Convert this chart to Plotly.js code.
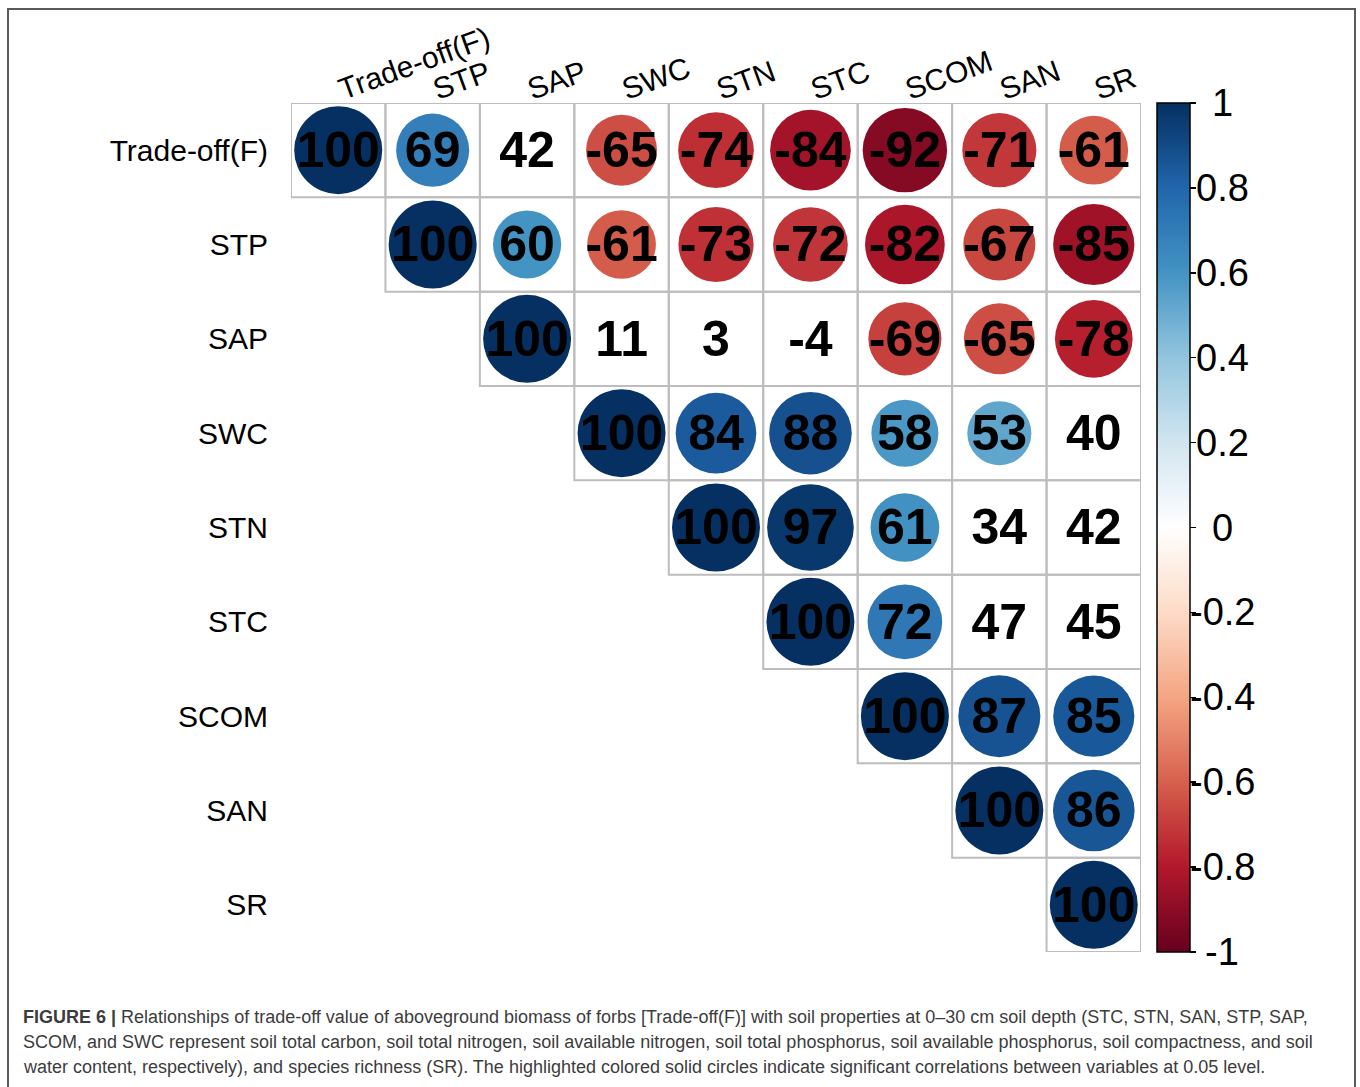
<!DOCTYPE html>
<html>
<head>
<meta charset="utf-8">
<script src="https://cdn.plot.ly/plotly-3.0.1.min.js"></script>
<style>
  html, body { margin: 0; padding: 0; background: #ffffff; }
  #chart { width: 1360px; height: 1087px; }
</style>
</head>
<body>
<div id="chart"></div>
<script>
// ---------------- DATA ----------------
const variables = ['Trade-off(F)', 'STP', 'SAP', 'SWC', 'STN', 'STC', 'SCOM', 'SAN', 'SR'];

// Upper-triangle correlation values (x100), each row starts at the diagonal
const rowTradeoff = [100, 69, 42, -65, -74, -84, -92, -71, -61];
const rowSTP      = [100, 60, -61, -73, -72, -82, -67, -85];
const rowSAP      = [100, 11, 3, -4, -69, -65, -78];
const rowSWC      = [100, 84, 88, 58, 53, 40];
const rowSTN      = [100, 97, 61, 34, 42];
const rowSTC      = [100, 72, 47, 45];
const rowSCOM     = [100, 87, 85];
const rowSAN      = [100, 86];
const rowSR       = [100];

// Significance flags (1 = significant at 0.05, drawn as a circle)
const sigTradeoff = [1, 1, 0, 1, 1, 1, 1, 1, 1];
const sigSTP      = [1, 1, 1, 1, 1, 1, 1, 1];
const sigSAP      = [1, 0, 0, 0, 1, 1, 1];
const sigSWC      = [1, 1, 1, 1, 1, 0];
const sigSTN      = [1, 1, 1, 0, 0];
const sigSTC      = [1, 1, 0, 0];
const sigSCOM     = [1, 1, 1];
const sigSAN      = [1, 1];
const sigSR       = [1];

const colorbarTicks = [1, 0.8, 0.6, 0.4, 0.2, 0, -0.2, -0.4, -0.6, -0.8, -1];

const captionLines = [
  '<b>FIGURE 6 |</b> Relationships of trade-off value of aboveground biomass of forbs [Trade-off(F)] with soil properties at 0–30 cm soil depth (STC, STN, SAN, STP, SAP,',
  'SCOM, and SWC represent soil total carbon, soil total nitrogen, soil available nitrogen, soil total phosphorus, soil available phosphorus, soil compactness, and soil',
  'water content, respectively), and species richness (SR). The highlighted colored solid circles indicate significant correlations between variables at 0.05 level.'
];

// ---------------- BUILD ----------------
const rows = [rowTradeoff, rowSTP, rowSAP, rowSWC, rowSTN, rowSTC, rowSCOM, rowSAN, rowSR];
const sigs = [sigTradeoff, sigSTP, sigSAP, sigSWC, sigSTN, sigSTC, sigSCOM, sigSAN, sigSR];

const W = 1360, H = 1087;
const M = {l: 291, r: W - 1141, t: 103, b: H - 952};
const plotW = W - M.l - M.r, plotH = H - M.t - M.b;
const px = v => (v - M.l) / plotW;
const py = v => (H - M.b - v) / plotH;

const circX = [], circY = [], circC = [], circS = [];
const txtX = [], txtY = [], txtT = [];
const shapes = [];
const FULL = 88; // diameter for |r| = 1

rows.forEach((row, i) => {
  row.forEach((v, k) => {
    const j = i + k;
    const xv = variables[j], yv = variables[i];
    txtX.push(xv); txtY.push(yv); txtT.push(String(v));
    if (sigs[i][k]) {
      circX.push(xv); circY.push(yv);
      circC.push(v / 100);
      circS.push(FULL * Math.sqrt(Math.abs(v) / 100));
    }
    shapes.push({
      type: 'rect', xref: 'x', yref: 'y', layer: 'below',
      x0: j - 0.5, x1: j + 0.5, y0: i - 0.5, y1: i + 0.5,
      line: {color: '#bdbdbd', width: 2}, fillcolor: 'rgba(0,0,0,0)'
    });
  });
});

// outer frame
shapes.push({
  type: 'rect', xref: 'paper', yref: 'paper',
  x0: px(8), x1: px(1355), y0: py(1100), y1: py(9),
  line: {color: '#5a5a5a', width: 2}, fillcolor: 'rgba(0,0,0,0)'
});

const rdbu = [
  [0.0, '#67001F'], [0.1, '#B2182B'], [0.2, '#D6604D'], [0.3, '#F4A582'],
  [0.4, '#FDDBC7'], [0.5, '#FFFFFF'], [0.6, '#D1E5F0'], [0.7, '#92C5DE'],
  [0.8, '#4393C3'], [0.9, '#2166AC'], [1.0, '#053061']
];

const circles = {
  type: 'scatter', mode: 'markers', x: circX, y: circY,
  hoverinfo: 'skip', showlegend: false,
  marker: {
    size: circS, color: circC, colorscale: rdbu, cmin: -1, cmax: 1,
    line: {width: 0}, opacity: 1,
    showscale: true,
    colorbar: {
      x: px(1157), xanchor: 'left', xref: 'paper',
      y: 0.5, yanchor: 'middle', len: 1, lenmode: 'fraction',
      thickness: 33, thicknessmode: 'pixels',
      outlinecolor: '#000', outlinewidth: 1.5,
      xpad: 0, ypad: 0,
      ticks: 'outside', ticklen: 6, tickwidth: 1.5, tickcolor: '#000',
      tickvals: colorbarTicks, showticklabels: false,
      bgcolor: 'rgba(0,0,0,0)', borderwidth: 0
    }
  }
};

const labels = {
  type: 'scatter', mode: 'text', x: txtX, y: txtY, text: txtT,
  yaxis: 'y2',
  hoverinfo: 'skip', showlegend: false,
  textposition: 'middle center',
  textfont: {family: 'Liberation Sans, Arial, sans-serif', size: 50, color: '#000', weight: 'bold'}
};

const annotations = [];
// colorbar labels, centred under the legend as in the reference
colorbarTicks.forEach(t => {
  annotations.push({
    xref: 'paper', yref: 'paper', x: px(1222), y: (t + 1) / 2,
    xanchor: 'center', yanchor: 'middle', showarrow: false,
    text: String(t),
    font: {family: 'Liberation Sans, Arial, sans-serif', size: 38, color: '#000'}
  });
});
// caption lines
const capY = [1017, 1042, 1067];
captionLines.forEach((line, n) => {
  annotations.push({
    xref: 'paper', yref: 'paper', x: px(21), y: py(capY[n]),
    xanchor: 'left', yanchor: 'middle', align: 'left', showarrow: false,
    text: line,
    font: {family: 'Liberation Sans, Arial, sans-serif', size: 18, color: '#3c3c3c'}
  });
});

const DY = 0.045; // small downward nudge for the value labels
const layout = {
  width: W, height: H,
  margin: M,
  paper_bgcolor: '#ffffff', plot_bgcolor: '#ffffff',
  showlegend: false,
  xaxis: {
    type: 'category', categoryorder: 'array', categoryarray: variables,
    range: [-0.5, 8.5], side: 'top', tickangle: -20,
    showgrid: false, zeroline: false, showline: false, ticks: '',
    ticklabelstandoff: -5,
    tickfont: {family: 'Liberation Sans, Arial, sans-serif', size: 30, color: '#000'},
    fixedrange: true
  },
  yaxis: {
    type: 'category', categoryorder: 'array', categoryarray: variables,
    range: [8.5, -0.5],
    showgrid: false, zeroline: false, showline: false, ticks: '',
    ticklabelstandoff: 22,
    tickfont: {family: 'Liberation Sans, Arial, sans-serif', size: 30, color: '#000'},
    fixedrange: true
  },
  yaxis2: {
    type: 'category', categoryorder: 'array', categoryarray: variables,
    overlaying: 'y', range: [8.5 - DY, -0.5 - DY],
    showgrid: false, zeroline: false, showline: false, ticks: '',
    showticklabels: false, fixedrange: true
  },
  shapes: shapes,
  annotations: annotations
};

Plotly.newPlot('chart', [circles, labels], layout, {displayModeBar: false, staticPlot: true});
</script>
</body>
</html>
